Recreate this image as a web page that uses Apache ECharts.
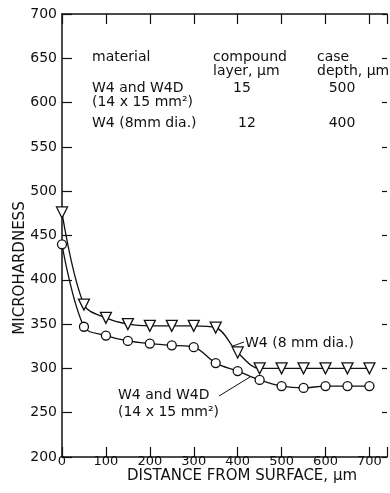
<!DOCTYPE html>
<html>
<head>
<meta charset="utf-8">
<script src="https://cdn.jsdelivr.net/npm/echarts@6/dist/echarts.min.js"></script>
<style>
  html, body { margin: 0; padding: 0; background: #fff; }
  #chart { width: 390px; height: 493px; }
</style>
</head>
<body>
<div id="chart"></div>
<script>
// distances from surface, um
const distances = [0, 50, 100, 150, 200, 250, 300, 350, 400, 450, 500, 550, 600, 650, 700]
// W4 (8 mm dia.) - open triangles
const w4Round = [476, 372, 357, 350, 348, 348, 348, 346, 318, 300, 300, 300, 300, 300, 300]
// W4 and W4D (14 x 15 mm2) - open circles
const w4Square = [440, 347, 337, 331, 328, 326, 324, 306, 297, 287, 280, 278, 280, 280, 280]

const xTicks = [0, 100, 200, 300, 400, 500, 600, 700]
const yTicks = [200, 250, 300, 350, 400, 450, 500, 550, 600, 650, 700]

const font = 'DejaVu Sans'
const ink = '#111'

const pairs = (ys) => distances.map((d, i) => [d, ys[i]])

const chart = echarts.init(document.getElementById('chart'), null, { renderer: 'canvas' })

const txt = (x, y, text, size, align) => ({
  type: 'text',
  x: x,
  y: y,
  style: {
    text: text,
    fill: ink,
    font: (size || 14) + 'px "' + font + '"',
    align: align || 'left',
    verticalAlign: 'middle'
  }
})

const frameAxis = {
  type: 'value',
  axisLine: { show: true, onZero: false, lineStyle: { color: ink, width: 1.5 } },
  splitLine: { show: false }
}

const option = {
  backgroundColor: '#fff',
  animation: false,
  // the plot is cut at the right edge of the picture, only the right ticks show
  grid: { left: 62, top: 14, right: 0, bottom: 36 },
  xAxis: [
    {
      ...frameAxis,
      min: 0,
      max: 740,
      interval: 100,
      axisTick: { show: true, inside: true, length: 10, lineStyle: { color: ink, width: 1.2 } },
      axisLabel: {
        margin: -2,
        color: ink,
        fontFamily: font,
        fontSize: 13,
        formatter: (v) => (xTicks.indexOf(v) >= 0 ? String(v) : '')
      }
    },
    {
      ...frameAxis,
      position: 'top',
      min: 0,
      max: 740,
      interval: 100,
      axisTick: { show: true, inside: true, length: 10, lineStyle: { color: ink, width: 1.2 } },
      axisLabel: { show: false }
    }
  ],
  yAxis: [
    {
      ...frameAxis,
      min: 200,
      max: 700,
      interval: 50,
      axisTick: { show: true, inside: true, length: 10, lineStyle: { color: ink, width: 1.2 } },
      axisLabel: {
        margin: 5,
        color: ink,
        fontFamily: font,
        fontSize: 14,
        formatter: (v) => (yTicks.indexOf(v) >= 0 ? String(v) : '')
      }
    },
    {
      ...frameAxis,
      position: 'right',
      min: 200,
      max: 700,
      interval: 50,
      axisLine: { show: false, onZero: false },
      axisTick: { show: true, inside: true, length: 5, lineStyle: { color: ink, width: 1.2 } },
      axisLabel: { show: false }
    }
  ],
  series: [
    {
      name: 'W4 (8 mm dia.)',
      type: 'line',
      data: pairs(w4Round),
      smooth: 0.35,
      symbol: 'triangle',
      symbolRotate: 180,
      symbolSize: 11,
      itemStyle: { color: '#fff', borderColor: ink, borderWidth: 1.3 },
      lineStyle: { color: ink, width: 1.3 }
    },
    {
      name: 'W4 and W4D (14 x 15 mm²)',
      type: 'line',
      data: pairs(w4Square),
      smooth: 0.35,
      symbol: 'circle',
      symbolSize: 9,
      itemStyle: { color: '#fff', borderColor: ink, borderWidth: 1.3 },
      lineStyle: { color: ink, width: 1.3 }
    }
  ],
  graphic: [
    // table inside the plot
    txt(92, 57, 'material'),
    txt(213, 57, 'compound'),
    txt(213, 71, 'layer, µm'),
    txt(317, 57, 'case'),
    txt(317, 71, 'depth, µm'),
    txt(92, 88, 'W4 and W4D'),
    txt(92, 102, '(14 x 15 mm²)'),
    txt(242, 88, '15', 14, 'center'),
    txt(342, 88, '500', 14, 'center'),
    txt(92, 123, 'W4 (8mm dia.)'),
    txt(247, 123, '12', 14, 'center'),
    txt(342, 123, '400', 14, 'center'),
    // curve labels
    txt(245, 343, 'W4 (8 mm dia.)'),
    txt(118, 395, 'W4 and W4D'),
    txt(118, 412, '(14 x 15 mm²)'),
    {
      type: 'line',
      shape: { x1: 233, y1: 346, x2: 244, y2: 342 },
      style: { stroke: ink, lineWidth: 1 }
    },
    {
      type: 'line',
      shape: { x1: 219, y1: 396, x2: 250, y2: 377 },
      style: { stroke: ink, lineWidth: 1 }
    },
    // axis titles
    {
      type: 'text',
      x: 20,
      y: 268,
      rotation: Math.PI / 2,
      style: {
        text: 'MICROHARDNESS',
        fill: ink,
        font: '15px "' + font + '"',
        align: 'center',
        verticalAlign: 'middle'
      }
    },
    txt(242, 476, 'DISTANCE FROM SURFACE, µm', 15, 'center')
  ]
}

chart.setOption(option)
</script>
</body>
</html>
